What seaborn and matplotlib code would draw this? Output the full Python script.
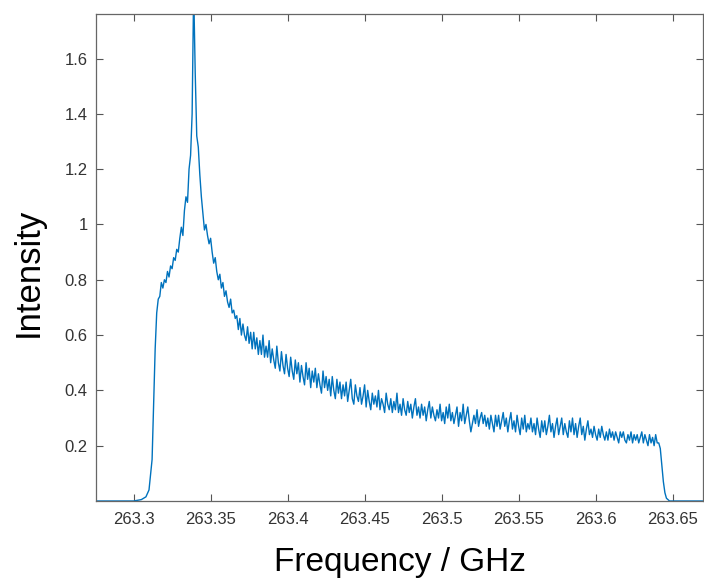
import numpy as np
import pandas as pd
import matplotlib
matplotlib.use("Agg")
import matplotlib.pyplot as plt
import seaborn as sns

# ---- data ----
# baseline and rising edge (GHz, intensity)
edge_freq = [263.270, 263.300, 263.305, 263.308, 263.310, 263.312, 263.313, 263.314, 263.315, 263.316]
edge_int = [0.0, 0.0, 0.005, 0.015, 0.04, 0.15, 0.35, 0.55, 0.68, 0.73]

# noisy band, sampled every 1 MHz starting at 263.317 GHz
band_start = 263.317
band_step = 0.001
band_int = [
    0.74, 0.79, 0.77, 0.80, 0.79, 0.83, 0.81, 0.85, 0.84, 0.88,
    0.87, 0.91, 0.90, 0.95, 0.99, 0.96, 1.05, 1.10, 1.08, 1.20,
    1.25, 1.40, 1.85, 1.55, 1.32, 1.28, 1.18, 1.10, 1.04, 0.98,
    1.00, 0.96, 0.93, 0.95, 0.90, 0.86, 0.88, 0.83, 0.80, 0.82,
    0.77, 0.79, 0.74, 0.76, 0.72, 0.70, 0.73, 0.68, 0.69, 0.66,
    0.67, 0.62, 0.66, 0.60, 0.64, 0.60, 0.58, 0.63, 0.57, 0.61,
    0.55, 0.61, 0.55, 0.59, 0.53, 0.58, 0.53, 0.60, 0.52, 0.56,
    0.52, 0.58, 0.50, 0.55, 0.51, 0.48, 0.56, 0.50, 0.47, 0.54,
    0.49, 0.46, 0.53, 0.48, 0.45, 0.52, 0.47, 0.44, 0.51, 0.46,
    0.50, 0.43, 0.49, 0.45, 0.42, 0.50, 0.44, 0.48, 0.41, 0.47,
    0.43, 0.48, 0.41, 0.46, 0.42, 0.39, 0.47, 0.41, 0.45, 0.40,
    0.44, 0.38, 0.45, 0.40, 0.37, 0.44, 0.39, 0.43, 0.37, 0.42,
    0.38, 0.43, 0.36, 0.40, 0.44, 0.37, 0.35, 0.42, 0.38, 0.36,
    0.41, 0.35, 0.38, 0.42, 0.34, 0.40, 0.36, 0.33, 0.39, 0.35,
    0.38, 0.34, 0.40, 0.33, 0.37, 0.35, 0.32, 0.39, 0.35, 0.33,
    0.37, 0.32, 0.36, 0.33, 0.39, 0.32, 0.35, 0.31, 0.37, 0.33,
    0.31, 0.36, 0.32, 0.35, 0.30, 0.34, 0.37, 0.31, 0.34, 0.30,
    0.35, 0.31, 0.34, 0.29, 0.33, 0.36, 0.30, 0.34, 0.31, 0.29,
    0.33, 0.30, 0.35, 0.29, 0.32, 0.28, 0.34, 0.30, 0.35, 0.29,
    0.32, 0.28, 0.31, 0.34, 0.27, 0.32, 0.29, 0.35, 0.28, 0.31,
    0.34, 0.29, 0.25, 0.28, 0.31, 0.28, 0.33, 0.27, 0.30, 0.32,
    0.28, 0.31, 0.27, 0.30, 0.26, 0.31, 0.28, 0.25, 0.31, 0.27,
    0.31, 0.26, 0.29, 0.32, 0.27, 0.30, 0.25, 0.29, 0.32, 0.26,
    0.29, 0.25, 0.31, 0.27, 0.24, 0.30, 0.26, 0.31, 0.25, 0.28,
    0.26, 0.30, 0.25, 0.28, 0.24, 0.30, 0.26, 0.23, 0.29, 0.25,
    0.29, 0.24, 0.27, 0.31, 0.25, 0.28, 0.23, 0.27, 0.30, 0.24,
    0.27, 0.30, 0.24, 0.28, 0.25, 0.23, 0.29, 0.25, 0.30, 0.24,
    0.28, 0.23, 0.27, 0.30, 0.24, 0.27, 0.22, 0.26, 0.29, 0.24,
    0.26, 0.23, 0.27, 0.24, 0.22, 0.26, 0.23, 0.27, 0.24, 0.22,
    0.25, 0.22, 0.26, 0.23, 0.25, 0.22, 0.25, 0.23, 0.21, 0.25,
    0.23, 0.25, 0.22, 0.21, 0.24, 0.22, 0.25, 0.21, 0.24, 0.22,
    0.24, 0.21, 0.23, 0.25, 0.21, 0.24, 0.22, 0.20, 0.24, 0.21,
    0.23, 0.20, 0.24, 0.21, 0.21,
]

# falling edge and trailing baseline
fall_freq = [263.642, 263.643, 263.644, 263.645, 263.646, 263.648, 263.680]
fall_int = [0.19, 0.13, 0.07, 0.03, 0.01, 0.0, 0.0]

x_ticks = [263.3, 263.35, 263.4, 263.45, 263.5, 263.55, 263.6, 263.65]
x_tick_labels = ["263.3", "263.35", "263.4", "263.45", "263.5", "263.55", "263.6", "263.65"]
y_ticks = [0.2, 0.4, 0.6, 0.8, 1.0, 1.2, 1.4, 1.6]
y_tick_labels = ["0.2", "0.4", "0.6", "0.8", "1", "1.2", "1.4", "1.6"]

band_freq = list(np.round(band_start + band_step * np.arange(len(band_int)), 4))
df = pd.DataFrame({
    "freq": edge_freq + band_freq + fall_freq,
    "intensity": edge_int + band_int + fall_int,
})

# ---- figure ----
sns.set_theme(style="white")
plt.rcParams["font.family"] = ["Liberation Sans", "DejaVu Sans"]

fig = plt.figure(figsize=(7.04, 5.83), dpi=100)
ax = fig.add_axes([96 / 704, 82 / 583, 607 / 704, 487 / 583])

sns.lineplot(data=df, x="freq", y="intensity", ax=ax, estimator=None,
             color="#0072BD", linewidth=1.0, sort=False)

ax.set_xlim(263.27558, 263.66974)
ax.set_ylim(0, 1.761)
ax.set_xticks(x_ticks)
ax.set_xticklabels(x_tick_labels)
ax.set_yticks(y_ticks)
ax.set_yticklabels(y_tick_labels)

ax.tick_params(axis="both", which="both", direction="in", length=5, width=0.8,
               color="#555555", labelsize=12, labelcolor="#333333",
               top=True, right=True, bottom=True, left=True)
ax.tick_params(axis="x", pad=8)
ax.tick_params(axis="y", pad=6)

for sp in ax.spines.values():
    sp.set_color("#666666")
    sp.set_linewidth(0.9)
    sp.set_visible(True)

ax.set_xlabel("Frequency / GHz", fontsize=24, color="black", labelpad=14)
ax.set_ylabel("Intensity", fontsize=25, color="black")
ax.yaxis.set_label_coords(-0.085, 0.47)
ax.grid(False)

fig.savefig("out.png", dpi=100, facecolor="white")
